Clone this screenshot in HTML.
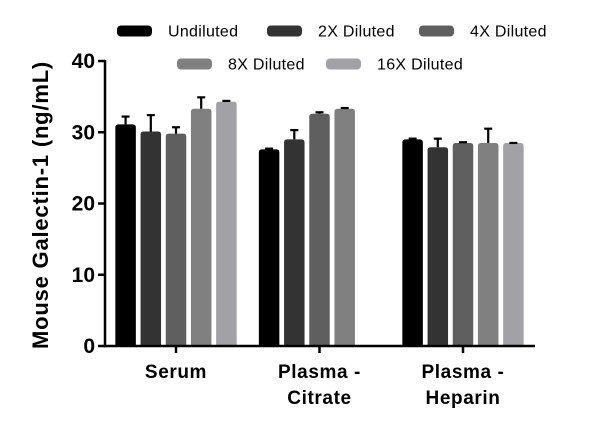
<!DOCTYPE html>
<html><head><meta charset="utf-8"><style>
body{margin:0;background:#fff;}
svg{display:block;font-family:"Century Gothic","Liberation Sans",sans-serif;}
</style></head><body>
<svg id="chart" width="600" height="440" viewBox="0 0 600 440"></svg>
<script>
const categories=["Serum","Plasma - Citrate","Plasma - Heparin"];
const catLines=[["Serum"],["Plasma -","Citrate"],["Plasma -","Heparin"]];
const seriesNames=["Undiluted","2X Diluted","4X Diluted","8X Diluted","16X Diluted"];
const undiluted=[31.1,27.6,29.0];
const dil2x=[30.1,29.0,27.9];
const dil4x=[29.8,32.6,28.5];
const dil8x=[33.3,33.3,28.5];
const dil16x=[34.3,null,28.5];
const undilutedErr=[1.1,0.1,0.1];
const dil2xErr=[2.3,1.3,1.2];
const dil4xErr=[0.9,0.2,0.1];
const dil8xErr=[1.6,0.1,2.0];
const dil16xErr=[0.1,null,0];
const yTicks=[0,10,20,30,40];
const series=[undiluted,dil2x,dil4x,dil8x,dil16x];
const errs=[undilutedErr,dil2xErr,dil4xErr,dil8xErr,dil16xErr];
const colors=["#000000","#333333","#5f5f5f","#808080","#a2a2a6"];
const NS="http://www.w3.org/2000/svg";
const svg=document.getElementById('chart');
const x0=105,x1=535,yBase=346,yTop=61;
const y=v=>yBase-(v/40)*(yBase-yTop);
const centers=[176,319.5,463];
const step=25.2,bw=20.5;
const barX=(c,s)=>centers[c]+(s-2)*step-bw/2;
function mk(t,a,parent){const e=document.createElementNS(NS,t);for(const k in a)e.setAttribute(k,a[k]);(parent||svg).appendChild(e);return e;}
series.forEach((vals,s)=>{vals.forEach((v,c)=>{if(v==null)return;
 const bx=barX(c,s),top=y(v);
 const r=mk('path',{d:`M${bx},${yBase} L${bx},${top+3} Q${bx},${top} ${bx+3},${top} L${bx+bw-3},${top} Q${bx+bw},${top} ${bx+bw},${top+3} L${bx+bw},${yBase} Z`,fill:colors[s]});
 
 
 const e=errs[s][c];
 if(e!=null){const cx=bx+bw/2,et=y(v+e);
  const g=mk('g',{stroke:'#000','stroke-width':2.2});
  
  
  mk('line',{x1:cx,x2:cx,y1:top,y2:et},g);
  mk('line',{x1:cx-4,x2:cx+4,y1:et,y2:et},g);}
});});
const ax=mk('g',{stroke:'#000','stroke-width':2.5});


mk('line',{x1:x0,x2:x0,y1:yTop-1,y2:yBase+1.2},ax);
mk('line',{x1:x0-1.2,x2:x1,y1:yBase,y2:yBase},ax);
yTicks.forEach(t=>{mk('line',{x1:x0-7,x2:x0,y1:y(t),y2:y(t)},ax);
 const tx=mk('text',{x:x0-10,y:y(t)+7,'text-anchor':'end','font-size':21,'font-weight':'bold',fill:'#000'});
 tx.textContent=t;
 
 });
centers.forEach((cx,i)=>{mk('line',{x1:cx,x2:cx,y1:yBase,y2:yBase+7},ax);
 catLines[i].forEach((ln,j)=>{const tx=mk('text',{x:cx,y:378+j*26,'text-anchor':'middle','font-size':19,'font-weight':'bold','letter-spacing':0.6,fill:'#000'});
  tx.textContent=ln;
  
  });});
const yt=mk('text',{x:0,y:0,transform:'translate(48,205) rotate(-90)','text-anchor':'middle','font-size':22,'font-weight':'bold','letter-spacing':0.8,fill:'#000'});
yt.textContent='Mouse Galectin-1 (ng/mL)';


const legPos=[[117,31],[267,31],[419,31],[177,64],[326,64]];
seriesNames.forEach((n,i)=>{const g=mk('g',{});
 
 
 const [lx,ly]=legPos[i];
 mk('rect',{x:lx,y:ly-5.5,width:35,height:11,rx:4,fill:colors[i]},g);
 const tx=mk('text',{x:lx+51,y:ly+5.5,'font-size':16,'letter-spacing':0.3,fill:'#000'},g);
 tx.textContent=n;});
</script>
</body></html>
